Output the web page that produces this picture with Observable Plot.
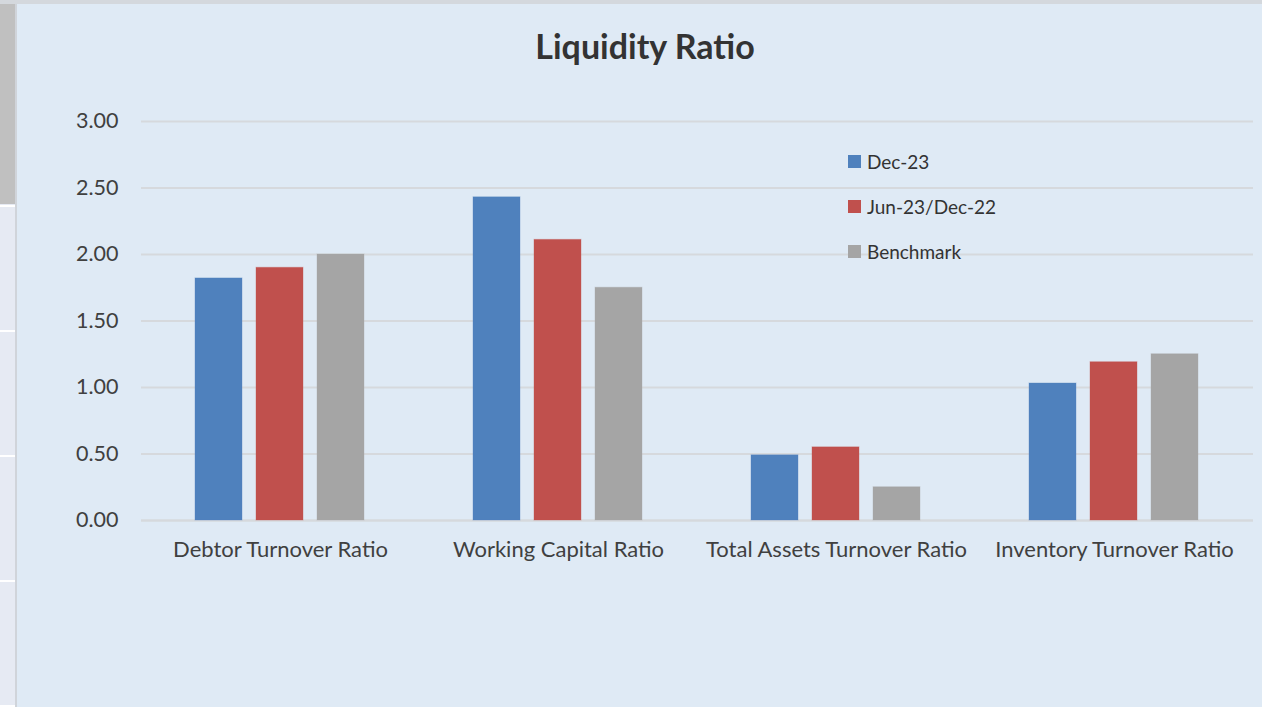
<!DOCTYPE html>
<html>
<head>
<meta charset="utf-8">
<script src="https://cdn.jsdelivr.net/npm/d3@7"></script>
<script src="https://cdn.jsdelivr.net/npm/@observablehq/plot@0.6"></script>
<style>
  html, body { margin: 0; padding: 0; }
  body { width: 1262px; height: 707px; overflow: hidden; background: #dfeaf5; font-family: Lato, "Open Sans", sans-serif; }
  #wrap { position: relative; width: 1262px; height: 707px; }
  #topline { position: absolute; left: 0; top: 0; width: 1262px; height: 4px; background: #d4d8dd; }
  #strip { position: absolute; left: 0; top: 4px; width: 15px; height: 703px; background: #e6eaf3; border-right: 2px solid #d0d4da; }
  #strip .gray { position: absolute; left: 0; top: 0; width: 15px; height: 200px; background: #c0c0c0; }
  #strip .line { position: absolute; left: 0; width: 15px; height: 2px; background: #ffffff; }
  #title { position: absolute; left: 0; width: 1290px; top: 25px; text-align: center; font-size: 34px; font-weight: bold; color: #333333; }
  #legend { position: absolute; left: 848px; top: 150px; font-size: 19px; color: #333333; }
  #legend .item { position: absolute; left: 0; white-space: nowrap; display: flex; align-items: center; }
  #legend .sw { width: 13px; height: 13px; margin-right: 6px; }
  #chart { position: absolute; left: 0; top: 0; }
</style>
</head>
<body>
<div id="wrap">
  <div id="topline"></div>
  <div id="strip">
    <div class="gray"></div>
    <div class="line" style="top:201px"></div>
    <div class="line" style="top:326px"></div>
    <div class="line" style="top:451px"></div>
    <div class="line" style="top:576px"></div>
    <div class="line" style="top:701px"></div>
  </div>
  <div id="chart"></div>
  <div id="title">Liquidity Ratio</div>
  <div id="legend"></div>
</div>
<script>
const categories = ["Debtor Turnover Ratio", "Working Capital Ratio", "Total Assets Turnover Ratio", "Inventory Turnover Ratio"];
const seriesNames = ["Dec-23", "Jun-23/Dec-22", "Benchmark"];
const seriesColors = ["#4f81bd", "#c0504d", "#a5a5a5"];
const dec23 = [1.82, 2.43, 0.49, 1.03];
const jun23dec22 = [1.90, 2.11, 0.55, 1.19];
const benchmark = [2.00, 1.75, 0.25, 1.25];
const yTicks = [0, 0.5, 1, 1.5, 2, 2.5, 3];

const seriesValues = [dec23, jun23dec22, benchmark];
const data = [];
categories.forEach((c, i) => {
  seriesNames.forEach((s, j) => {
    data.push({category: c, series: s, value: seriesValues[j][i]});
  });
});

const chart = Plot.plot({
  width: 1262,
  height: 707,
  marginLeft: 140,
  marginRight: 9,
  marginTop: 121,
  marginBottom: 187,
  style: { background: "transparent", fontFamily: "Lato, 'Open Sans', sans-serif", color: "#404040" },
  fx: { domain: categories, padding: 0, label: null },
  x: { domain: seriesNames, paddingInner: 0.226, paddingOuter: 0.855, axis: null },
  y: { domain: [0, 3], label: null },
  color: { domain: seriesNames, range: seriesColors },
  marks: [
    Plot.gridY(yTicks, { stroke: "#d6d9dd", strokeOpacity: 1, strokeWidth: 2 }),
    Plot.ruleY([0], { stroke: "#d6d9dd", strokeWidth: 2 }),
    Plot.barY(data, { fx: "category", x: "series", y: "value", fill: "series", stroke: "series", strokeOpacity: 0.35 }),
    Plot.axisY(yTicks, { tickSize: 0, tickPadding: 23, tickFormat: d3.format(".2f"), fontSize: 21.5, fill: "#404040" }),
    Plot.axisFx({ anchor: "bottom", tickSize: 0, tickPadding: 21, fontSize: 22, fill: "#404040", label: null })
  ]
});
document.getElementById("chart").appendChild(chart);

const legend = document.getElementById("legend");
seriesNames.forEach((s, j) => {
  const item = document.createElement("div");
  item.className = "item";
  item.style.top = (j * 45) + "px";
  const sw = document.createElement("div");
  sw.className = "sw";
  sw.style.background = seriesColors[j];
  const t = document.createElement("span");
  t.textContent = s;
  item.appendChild(sw);
  item.appendChild(t);
  legend.appendChild(item);
});
</script>
</body>
</html>
